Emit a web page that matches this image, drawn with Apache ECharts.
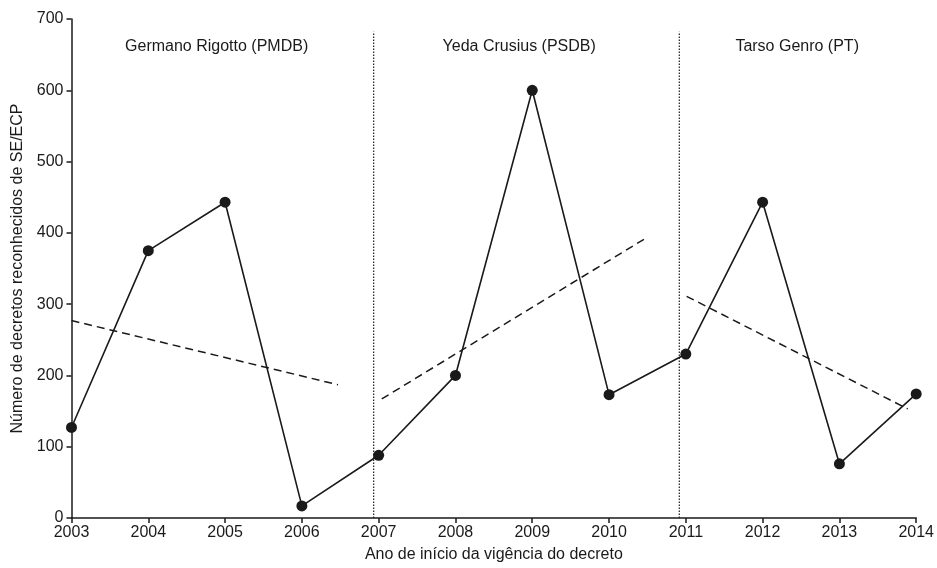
<!DOCTYPE html>
<html>
<head>
<meta charset="utf-8">
<script src="https://cdn.jsdelivr.net/npm/echarts@6/dist/echarts.min.js"></script>
<style>
html,body{margin:0;padding:0;background:#fff;overflow:hidden;}
#c{width:937px;height:568px;}
</style>
</head>
<body>
<div id="c"></div>
<script>
const years = [2003, 2004, 2005, 2006, 2007, 2008, 2009, 2010, 2011, 2012, 2013, 2014];
const decrees = [127, 375, 443, 17, 88, 200, 600, 173, 230, 443, 76, 174];
const trend1 = [[2003, 277], [2006.47, 187]];
const trend2 = [[2007.04, 167], [2010.47, 392]];
const trend3 = [[2011.01, 311], [2013.89, 153]];
const dividers = [2006.935, 2010.915];
const dividerTop = 682;
const govLabels = [
  {name: 'Germano Rigotto (PMDB)', value: [2004.89, 661]},
  {name: 'Yeda Crusius (PSDB)', value: [2008.83, 661]},
  {name: 'Tarso Genro (PT)', value: [2012.45, 661]}
];

const font = 'Liberation Sans, Arial, sans-serif';
const ink = '#1a1a1a';
const chart = echarts.init(document.getElementById('c'), null, {renderer: 'canvas'});

const series = [];
dividers.forEach(function (d) {
  series.push({
    type: 'line', data: [[d, 0], [d, dividerTop]], symbol: 'none', silent: true,
    lineStyle: {color: ink, width: 1.2, type: [1.5, 1.5]}, z: 1
  });
});
[trend1, trend2, trend3].forEach(function (t) {
  series.push({
    type: 'line', data: t, symbol: 'none', silent: true,
    lineStyle: {color: ink, width: 1.5, type: [8, 5]}, z: 2
  });
});
series.push({
  type: 'line',
  data: years.map(function (y, i) { return [y, decrees[i]]; }),
  symbol: 'circle', symbolSize: 11,
  itemStyle: {color: ink},
  lineStyle: {color: ink, width: 1.6},
  z: 3
});
series.push({
  type: 'scatter', data: govLabels, symbolSize: 0, silent: true,
  itemStyle: {opacity: 1, color: ink},
  label: {
    show: true, position: 'inside', formatter: '{b}',
    fontFamily: font, fontSize: 16, color: ink
  }
});

chart.setOption({
  animation: false,
  backgroundColor: '#fff',
  grid: {left: 71.5, right: 15.3, top: 19, bottom: 48},
  xAxis: {
    type: 'value', min: 2003, max: 2014, interval: 1,
    name: 'Ano de início da vigência do decreto',
    nameLocation: 'middle', nameGap: 29,
    nameTextStyle: {fontFamily: font, fontSize: 16, color: ink},
    axisLine: {lineStyle: {color: ink, width: 1.5}},
    axisTick: {show: true, length: 5, lineStyle: {color: ink, width: 1.5}},
    axisLabel: {fontFamily: font, fontSize: 16, color: ink, margin: 7,
      formatter: function (v) { return String(v); }},
    splitLine: {show: false}
  },
  yAxis: {
    type: 'value', min: 0, max: 700, interval: 100,
    name: 'Número de decretos reconhecidos de SE/ECP',
    nameLocation: 'middle', nameGap: 46,
    nameTextStyle: {fontFamily: font, fontSize: 16, color: ink},
    axisLine: {show: true, lineStyle: {color: ink, width: 1.5}},
    axisTick: {show: true, length: 5, lineStyle: {color: ink, width: 1.5}},
    axisLabel: {fontFamily: font, fontSize: 16, color: ink, margin: 8},
    splitLine: {show: false}
  },
  series: series
});
</script>
</body>
</html>
